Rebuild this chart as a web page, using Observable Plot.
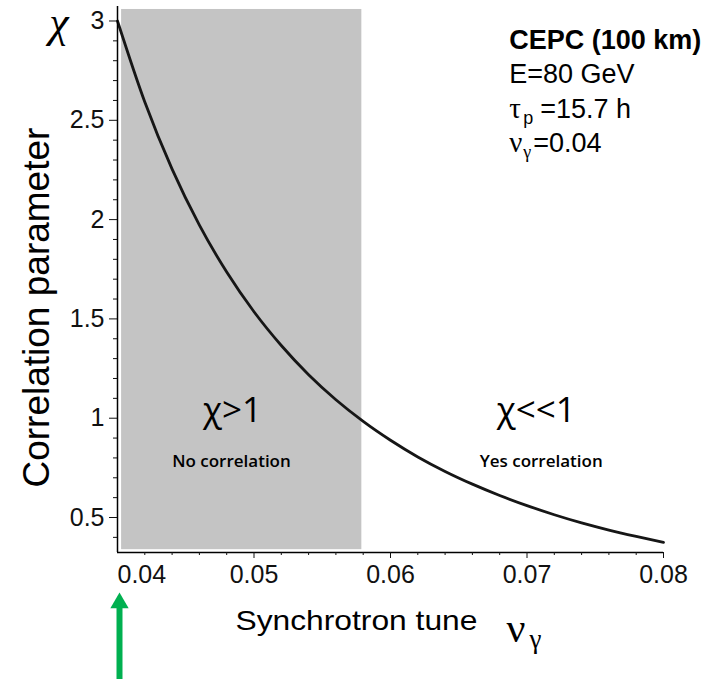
<!DOCTYPE html>
<html><head><meta charset="utf-8">
<script src="https://cdn.jsdelivr.net/npm/d3@7"></script>
<script src="https://cdn.jsdelivr.net/npm/@observablehq/plot@0.6"></script>
<style>
html,body{margin:0;padding:0;background:#fff;}
#chart svg{display:block;}
</style>
</head><body><div id="chart"></div>
<script>
// ---- data ----
const tune = [0.040,0.042,0.044,0.046,0.048,0.050,0.052,0.054,0.056,0.058,0.060,
              0.062,0.064,0.066,0.068,0.070,0.072,0.074,0.076,0.078,0.080];
const chi  = [3.000,2.592,2.254,1.972,1.736,1.536,1.366,1.219,1.093,0.984,0.889,
              0.805,0.732,0.668,0.611,0.560,0.514,0.473,0.437,0.405,0.375];
const majorY = [0.5,1,1.5,2,2.5,3];
const yTickLabels = ["0.5","1","1.5","2","2.5","3"];
const minorY = [0.4,0.6,0.7,0.8,0.9,1.1,1.2,1.3,1.4,1.6,1.7,1.8,1.9,2.1,2.2,2.3,2.4,2.6,2.7,2.8,2.9];
const majorX = [0.05,0.06,0.07,0.08];
const xTickLabels = ["0.05","0.06","0.07","0.08"];
const firstX = [0.04];
const firstXLabel = ["0.04"];
const minorX = [0.042,0.044,0.046,0.048,0.052,0.054,0.056,0.058,0.062,0.064,0.066,0.068,0.072,0.074,0.076,0.078];
const shadeTune = [0.0403, 0.0579];   // shaded region χ>1
const shadeChi = [0.338, 3.058];
const markedTune = 0.04;              // green arrow
const regionLabels = ["χ>1", "χ<<1"];
const regionNotes = ["No correlation", "Yes correlation"];
const annotTitle = "CEPC (100 km)";
const annotEnergy = "E=80 GeV";
const annotTau = ["τ", "p", "=15.7 h"];
const annotNu = ["ν", "γ", "=0.04"];
const xTitle = "Synchrotron tune";
const yTitle = "Correlation parameter";

const data = tune.map((t, i) => ({tune: t, chi: chi[i]}));
const X0 = 0.04, X1 = 0.08, Y0 = 0.3238, Y1 = 3.073;
const sans = "Liberation Sans";
const serif = "Liberation Serif";
const calib = "Open Sans";
const annX = 0.0687;

const plot = Plot.plot({
  width: 716, height: 679,
  marginLeft: 117, marginRight: 53, marginTop: 6, marginBottom: 127,
  x: {domain: [X0, X1]},
  y: {domain: [Y0, Y1]},
  style: {fontFamily: sans, background: "#fff", color: "#111", overflow: "visible"},
  marks: [
    Plot.rect([0], {x1: shadeTune[0], x2: shadeTune[1], y1: shadeChi[0], y2: shadeChi[1], fill: "#c4c4c4"}),
    Plot.line(data, {x: "tune", y: "chi", curve: "monotone-x", stroke: "#161616", strokeWidth: 2.8}),
    Plot.ruleX([X0], {stroke: "#000", strokeWidth: 1.5}),
    Plot.ruleY([Y0], {stroke: "#000", strokeWidth: 1.5}),
    Plot.axisY(majorY, {tickSize: 8, tickPadding: 5, fontSize: 25, label: null,
      tickFormat: d => yTickLabels[majorY.indexOf(d)]}),
    Plot.axisY(minorY, {tickSize: 4, label: null, tickFormat: () => ""}),
    Plot.axisX(majorX, {tickSize: 6, tickPadding: 7, fontSize: 25, label: null,
      tickFormat: d => xTickLabels[majorX.indexOf(d)]}),
    Plot.axisX(firstX, {tickSize: 0, tickPadding: 13, fontSize: 25, label: null, textAnchor: "start",
      tickFormat: d => firstXLabel[0]}),
    Plot.axisX(minorX, {tickSize: 3, label: null, tickFormat: () => ""}),
    // axis titles
    Plot.text([yTitle], {x: 0.03495, y: 1.557, text: d => d, rotate: -90, fontSize: 37,
      textAnchor: "middle", lineAnchor: "bottom", fill: "#000"}),
    Plot.text(["χ"], {x: 0.0357, y: 2.917, text: d => d, fontFamily: serif, fontStyle: "italic", fontSize: 44,
      textAnchor: "middle", lineAnchor: "bottom", fill: "#000"}),
    Plot.text([xTitle], {x: 0.04864, y: -0.066, text: d => d, fontSize: 28,
      textAnchor: "start", lineAnchor: "bottom", fill: "#000"}),
    Plot.text(["ν"], {x: 0.04864, y: -0.066, dx: 271, dy: 12, text: d => d, fontFamily: serif, fontSize: 42,
      textAnchor: "start", lineAnchor: "bottom", fill: "#000"}),
    Plot.text(["γ"], {x: 0.04864, y: -0.066, dx: 294, dy: 18, text: d => d, fontFamily: serif, fontSize: 27,
      textAnchor: "start", lineAnchor: "bottom", fill: "#000"}),
    // shaded / unshaded region labels
    Plot.text(regionLabels, {x: [0.04842, 0.07068], y: 0.9784, text: d => d, fontFamily: calib, fontSize: 35,
      textAnchor: "middle", lineAnchor: "bottom", fill: "#000"}),
    Plot.text(regionNotes, {x: [0.04835, 0.07104], y: 0.7568, text: d => d, fontFamily: calib, fontSize: 17,
      fontWeight: 600, textAnchor: "middle", lineAnchor: "bottom", fill: "#000"}),
    // top-right annotation
    Plot.text([annotTitle], {x: annX, y: 2.8565, text: d => d, fontSize: 27, fontWeight: "bold",
      textAnchor: "start", lineAnchor: "bottom", fill: "#000"}),
    Plot.text([annotEnergy], {x: annX, y: 2.6853, text: d => d, fontSize: 27,
      textAnchor: "start", lineAnchor: "bottom", fill: "#000"}),
    Plot.text([annotTau[0]], {x: annX, y: 2.5091, text: d => d, fontFamily: serif, fontSize: 29,
      textAnchor: "start", lineAnchor: "bottom", fill: "#000"}),
    Plot.text([annotTau[1]], {x: annX, y: 2.5091, dx: 14, dy: 6, text: d => d, fontSize: 18,
      textAnchor: "start", lineAnchor: "bottom", fill: "#000"}),
    Plot.text([annotTau[2]], {x: annX, y: 2.5091, dx: 31, text: d => d, fontSize: 27,
      textAnchor: "start", lineAnchor: "bottom", fill: "#000"}),
    Plot.text([annotNu[0]], {x: annX, y: 2.3379, text: d => d, fontFamily: serif, fontSize: 29,
      textAnchor: "start", lineAnchor: "bottom", fill: "#000"}),
    Plot.text([annotNu[1]], {x: annX, y: 2.3379, dx: 14, dy: 6, text: d => d, fontFamily: serif, fontSize: 18,
      textAnchor: "start", lineAnchor: "bottom", fill: "#000"}),
    Plot.text([annotNu[2]], {x: annX, y: 2.3379, dx: 24, text: d => d, fontSize: 27,
      textAnchor: "start", lineAnchor: "bottom", fill: "#000"}),
    // green arrow
    Plot.ruleX([markedTune], {y1: -0.34, y2: 0.08, dx: 2, stroke: "#00b050", strokeWidth: 6}),
    Plot.dot([markedTune], {x: d => d, y: 0.0695, dx: 2, symbol: "triangle", r: 6.8, fill: "#00b050", stroke: "none"})
  ]
});
document.getElementById("chart").appendChild(plot);
d3.select(plot).selectAll("text")
  .filter(function() { return this.textContent === xTitle; })
  .attr("textLength", 242).attr("lengthAdjust", "spacingAndGlyphs");
</script>
</body></html>
